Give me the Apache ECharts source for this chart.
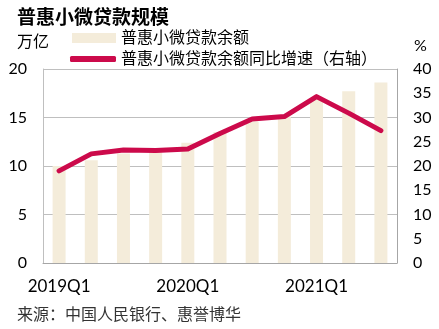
<!DOCTYPE html>
<html>
<head>
<meta charset="utf-8">
<script src="https://cdn.jsdelivr.net/npm/echarts@6/dist/echarts.min.js"></script>
<style>
html,body{margin:0;padding:0;background:#fff;}
#c{width:439px;height:329px;}
</style>
</head>
<body>
<div id="c"></div>
<script>
const categories = ['2019Q1','2019Q2','2019Q3','2019Q4','2020Q1','2020Q2','2020Q3','2020Q4','2021Q1','2021Q2','2021Q3'];
const balance = [10.0, 10.6, 11.3, 11.4, 12.4, 13.5, 14.6, 15.1, 16.9, 17.7, 18.6];
const growth = [19.0, 22.5, 23.3, 23.2, 23.5, 26.7, 29.7, 30.2, 34.3, 30.9, 27.3];
const leftTicks = [0, 5, 10, 15, 20];
const rightTicks = [0, 5, 10, 15, 20, 25, 30, 35, 40];

const FONT = 'Lato, "Noto Sans CJK SC", sans-serif';
const chart = echarts.init(document.getElementById('c'), null, {renderer: 'canvas'});
chart.setOption({
  animation: false,
  textStyle: {fontFamily: FONT},
  title: [
    {text: '普惠小微贷款规模', left: 12, top: 3, textStyle: {fontFamily: FONT, fontSize: 19, fontWeight: 'bold', color: '#000'}},
    {text: '万亿', left: 12, top: 29, textStyle: {fontFamily: FONT, fontSize: 16, fontWeight: 'normal', color: '#000'}},
    {text: '%', left: 409, top: 33, textStyle: {fontFamily: FONT, fontSize: 16, fontWeight: 'normal', color: '#000'}},
    {text: '来源：中国人民银行、惠誉博华', left: 12, top: 302, textStyle: {fontFamily: FONT, fontSize: 16, fontWeight: 'normal', color: '#333'}}
  ],
  legend: [
    {data: [{name: '普惠小微贷款余额', icon: 'rect'}], left: 67, top: 25, itemWidth: 44, itemHeight: 10,
      textStyle: {fontFamily: FONT, fontSize: 16, color: '#000'}},
    {data: [{name: '普惠小微贷款余额同比增速（右轴）', icon: 'roundRect'}], left: 65, top: 46, itemWidth: 46, itemHeight: 6,
      textStyle: {fontFamily: FONT, fontSize: 16, color: '#000'}}
  ],
  grid: {left: 43, right: 42, top: 69, bottom: 66, containLabel: false},
  xAxis: {
    type: 'category', data: categories,
    axisLine: {show: true, lineStyle: {color: '#A6A6A6', width: 1}},
    axisTick: {show: false},
    axisLabel: {interval: 3, color: '#000', fontSize: 17, fontFamily: FONT, margin: 15}
  },
  yAxis: [
    {type: 'value', min: 0, max: 20, interval: 5,
      axisLine: {show: true, lineStyle: {color: '#BFBFBF'}},
      axisTick: {show: false},
      axisLabel: {color: '#000', fontSize: 16, fontFamily: FONT, margin: 16},
      splitLine: {show: true, lineStyle: {color: '#BFBFBF', width: 1}}},
    {type: 'value', min: 0, max: 40, interval: 5,
      axisLine: {show: true, lineStyle: {color: '#A6A6A6'}},
      axisTick: {show: false},
      axisLabel: {color: '#000', fontSize: 16, fontFamily: FONT, margin: 16},
      splitLine: {show: false}}
  ],
  series: [
    {name: '普惠小微贷款余额', type: 'bar', data: balance, yAxisIndex: 0, barWidth: 13,
      itemStyle: {color: '#F4ECDA'}},
    {name: '普惠小微贷款余额同比增速（右轴）', type: 'line', data: growth, yAxisIndex: 1,
      symbol: 'none', lineStyle: {color: '#CC0A4B', width: 5, cap: 'round', join: 'round'},
      itemStyle: {color: '#CC0A4B'}}
  ]
});
</script>
</body>
</html>
